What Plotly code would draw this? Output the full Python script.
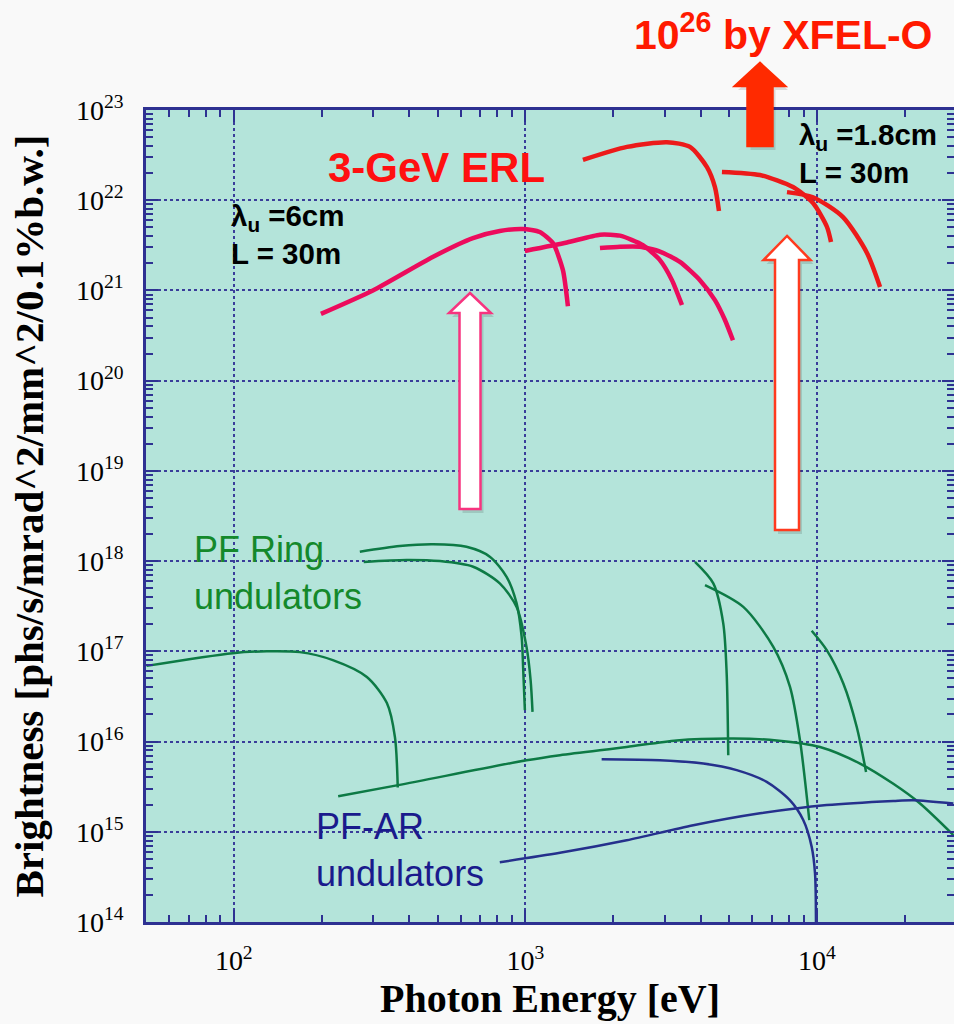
import math
import plotly.graph_objects as go

# ---------------- data ----------------
# 3-GeV ERL, lambda_u = 6 cm, L = 30 m (1st, 3rd, 5th harmonics)
erl6_h1_e = [199, 300, 481, 661, 817, 980, 1121, 1243, 1345, 1399]
erl6_h1_b = [5.5e20, 1.0e21, 2.35e21, 3.8e21, 4.55e21, 4.8e21, 4.44e21, 3.35e21, 1.68e21, 6.7e20]
erl6_h3_e = [996, 1388, 1802, 2110, 2530, 2893, 3182, 3443]
erl6_h3_b = [2.74e21, 3.4e21, 4.15e21, 4.05e21, 3.18e21, 2.17e21, 1.30e21, 6.9e20]
erl6_h5_e = [1802, 2110, 2470, 2893, 3388, 3968, 4467, 4835, 5150]
erl6_h5_b = [2.95e21, 3.05e21, 3.05e21, 2.7e21, 2.07e21, 1.30e21, 7.8e20, 4.7e20, 2.8e20]

# 3-GeV ERL, lambda_u = 1.8 cm, L = 30 m
erl18_h1_e = [1575, 2230, 3058, 3667, 4195, 4467, 4611]
erl18_h1_b = [2.8e22, 3.9e22, 4.4e22, 3.9e22, 2.33e22, 1.40e22, 7.6e21]
erl18_h3_e = [4721, 6375, 8275, 9690, 10822, 11170]
erl18_h3_b = [2.06e22, 1.9e22, 1.4e22, 9.3e21, 5.05e21, 3.44e21]
erl18_h5_e = [7890, 9690, 12280, 14840, 16450]
erl18_h5_b = [1.23e22, 1.08e22, 6.5e21, 2.6e21, 1.09e21]

# PF Ring undulators
pf1_e = [50.2, 99.2, 129.8, 168.4, 218.6, 286, 335, 357, 365]
pf1_b = [6.9e16, 9.55e16, 1.0e17, 9.8e16, 8.0e16, 5.2e16, 2.67e16, 1.12e16, 3.1e15]
pf2_e = [270.5, 371, 483, 628, 755, 862, 933, 971, 983, 996]
pf2_b = [1.27e18, 1.47e18, 1.54e18, 1.44e18, 1.12e18, 6.7e17, 3.4e17, 1.45e17, 6.2e16, 2.23e16]
pf3_e = [279, 391, 509, 662, 817, 933, 1009, 1042, 1058]
pf3_b = [9.8e17, 1.03e18, 1.0e18, 8.65e17, 5.66e17, 3.1e17, 1.12e17, 4.8e16, 2.13e16]
pf4_e = [228, 366, 1009, 1314, 2225, 3302, 5163, 7273, 10240, 14050, 18270, 22560, 29350]
pf4_b = [2.48e15, 3.29e15, 6.2e15, 7.06e15, 8.7e15, 1.03e16, 1.08e16, 1.03e16, 8.7e15, 5.7e15, 3.4e15, 2.06e15, 9.2e14]
pf5_e = [3815, 4410, 4770, 4900, 4962]
pf5_b = [9.8e17, 5.66e17, 2.04e17, 5.7e16, 7.06e15]
pf6_e = [4130, 5588, 7082, 8080, 8745, 9410]
pf6_b = [5.42e17, 3.11e17, 1.12e17, 4.04e16, 1.03e16, 1.35e15]
pf7_e = [9590, 10800, 12310, 13680, 14730]
pf7_b = [1.69e17, 1.03e17, 4.4e16, 1.46e16, 4.6e15]

# PF-AR undulators
ar1_e = [1826, 2893, 4074, 5303, 6721, 8070, 8970, 9590, 9845, 9920]
ar1_b = [6.35e15, 6.2e15, 5.7e15, 4.82e15, 3.57e15, 2.24e15, 1.35e15, 6.8e14, 3.45e14, 1.0e14]
ar2_e = [817, 1314, 2225, 3765, 6375, 10800, 18270, 21400, 29350]
ar2_b = [4.6e14, 5.84e14, 8.05e14, 1.18e15, 1.6e15, 1.98e15, 2.2e15, 2.24e15, 2.06e15]

# tick labels
x_tick_vals = [100, 1000, 10000]
x_tick_text = ["10<sup>2</sup>", "10<sup>3</sup>", "10<sup>4</sup>"]
y_tick_vals = [1e14, 1e15, 1e16, 1e17, 1e18, 1e19, 1e20, 1e21, 1e22, 1e23]
y_tick_text = ["10<sup>%d</sup>" % n for n in range(14, 24)]

# ---------------- style ----------------
W, H = 954, 1024
L_M, R_M, T_M, B_M = 146, 0, 110, 102
PW, PH = W - L_M - R_M, H - T_M - B_M

ERL6_COLOR = "#ec0b5c"
ERL18_COLOR = "#ec1a1a"
PF_COLOR = "#0d7a45"
AR_COLOR = "#25308c"
AXIS_COLOR = "#2e3192"

fig = go.Figure()


def add(e, b, color, width, smooth=0.8):
    fig.add_trace(go.Scatter(x=e, y=b, mode="lines",
                             line=dict(color=color, width=width, shape="spline", smoothing=smooth),
                             showlegend=False, hoverinfo="skip"))


for e, b in [(erl6_h1_e, erl6_h1_b), (erl6_h3_e, erl6_h3_b), (erl6_h5_e, erl6_h5_b)]:
    add(e, b, ERL6_COLOR, 4.5, 0.6)
for e, b in [(erl18_h1_e, erl18_h1_b), (erl18_h3_e, erl18_h3_b), (erl18_h5_e, erl18_h5_b)]:
    add(e, b, ERL18_COLOR, 4.5, 0.7)
for e, b in [(pf1_e, pf1_b), (pf2_e, pf2_b), (pf3_e, pf3_b), (pf4_e, pf4_b),
             (pf5_e, pf5_b), (pf6_e, pf6_b), (pf7_e, pf7_b)]:
    add(e, b, PF_COLOR, 2.5)
for e, b in [(ar1_e, ar1_b), (ar2_e, ar2_b)]:
    add(e, b, AR_COLOR, 2.5)


def px(xp):
    return (xp - L_M) / PW


def py(yp):
    return (H - B_M - yp) / PH


def arrow_path(tip_x, tip_y, head_half, head_y, shaft_half, bottom_y, dx=0, dy=0):
    pts = [(tip_x, tip_y), (tip_x + head_half, head_y), (tip_x + shaft_half, head_y),
           (tip_x + shaft_half, bottom_y), (tip_x - shaft_half, bottom_y),
           (tip_x - shaft_half, head_y), (tip_x - head_half, head_y)]
    s = "M " + " L ".join("%.5f %.5f" % (px(x + dx), py(y + dy)) for x, y in pts) + " Z"
    return s


shapes = []
arrows = [
    # tip_x, tip_y, head_half, head_y, shaft_half, bottom_y, fill, line
    (470, 293, 21, 313, 10.5, 509, "white", "#f7347f"),
    (787, 236, 23.5, 260, 12, 530, "white", "#ff3a1e"),
    (760, 63, 25, 86, 12.5, 146, "#ff2a00", "#ff2a00"),
]
for tx, ty, hh, hy, sh, by, fill, lc in arrows:
    shapes.append(dict(type="path", xref="paper", yref="paper",
                       path=arrow_path(tx, ty, hh, hy, sh, by, 3, 4),
                       fillcolor="rgba(0,0,0,0.12)", line=dict(width=0), layer="above"))
    shapes.append(dict(type="path", xref="paper", yref="paper",
                       path=arrow_path(tx, ty, hh, hy, sh, by),
                       fillcolor=fill, line=dict(color=lc, width=2.5), layer="above"))

SANS = "Liberation Sans, Arial, sans-serif"
SERIF = "Liberation Serif, Times New Roman, serif"

annotations = [
    dict(text="<b>10<sup>26</sup> by XFEL-O</b>", x=px(632), y=py(32), xanchor="left", yanchor="middle",
         font=dict(family=SANS, size=41, color="#ff1a00")),
    dict(text="<b>3-GeV ERL</b>", x=px(326), y=py(167), xanchor="left", yanchor="middle",
         font=dict(family=SANS, size=42, color="#ff1010")),
    dict(text="<b>λ<sub>u</sub> =6cm<br>L = 30m</b>", x=px(229), y=py(197), xanchor="left", yanchor="top",
         align="left", font=dict(family=SANS, size=29.5, color="black")),
    dict(text="<b>λ<sub>u</sub> =1.8cm<br>L = 30m</b>", x=px(797), y=py(116), xanchor="left", yanchor="top",
         align="left", font=dict(family=SANS, size=29.5, color="black")),
    dict(text="PF Ring<br>undulators", x=px(192), y=py(527), xanchor="left", yanchor="top",
         align="left", font=dict(family=SANS, size=36, color="#14892b")),
    dict(text="PF-AR<br>undulators", x=px(314), y=py(804), xanchor="left", yanchor="top",
         align="left", font=dict(family=SANS, size=36, color="#1a1a8c")),
]
for a in annotations:
    a.update(xref="paper", yref="paper", showarrow=False)

axis_common = dict(
    type="log",
    showline=True, linecolor=AXIS_COLOR, linewidth=2.5, mirror="allticks",
    ticks="inside", ticklen=12, tickwidth=2, tickcolor=AXIS_COLOR,
    showgrid=True, gridcolor="#3a3d9a", gridwidth=1.5, griddash="dot",
    zeroline=False,
    tickfont=dict(family=SERIF, size=28, color="black"),
    minor=dict(ticks="inside", ticklen=7, tickwidth=1.5, tickcolor=AXIS_COLOR, dtick="D1", showgrid=False),
)

fig.update_layout(
    width=W, height=H,
    margin=dict(l=L_M, r=R_M, t=T_M, b=B_M, autoexpand=False),
    paper_bgcolor="#f9f9f9", plot_bgcolor="#b4e4da",
    showlegend=False,
    xaxis=dict(axis_common, range=[math.log10(50), math.log10(29500)],
               tickvals=x_tick_vals, ticktext=x_tick_text, ticklabelstandoff=12,
               title=dict(text="<b>Photon Energy [eV]</b>", standoff=8,
                          font=dict(family=SERIF, size=40, color="black"))),
    yaxis=dict(axis_common, range=[14, 23],
               tickvals=y_tick_vals, ticktext=y_tick_text, ticklabelstandoff=14,
               title=dict(text="<b>Brightness [phs/s/mrad^2/mm^2/0.1%b.w.]</b>", standoff=20,
                          font=dict(family=SERIF, size=41, color="black"))),
    shapes=shapes,
    annotations=annotations,
)

fig.write_html("out.html")
